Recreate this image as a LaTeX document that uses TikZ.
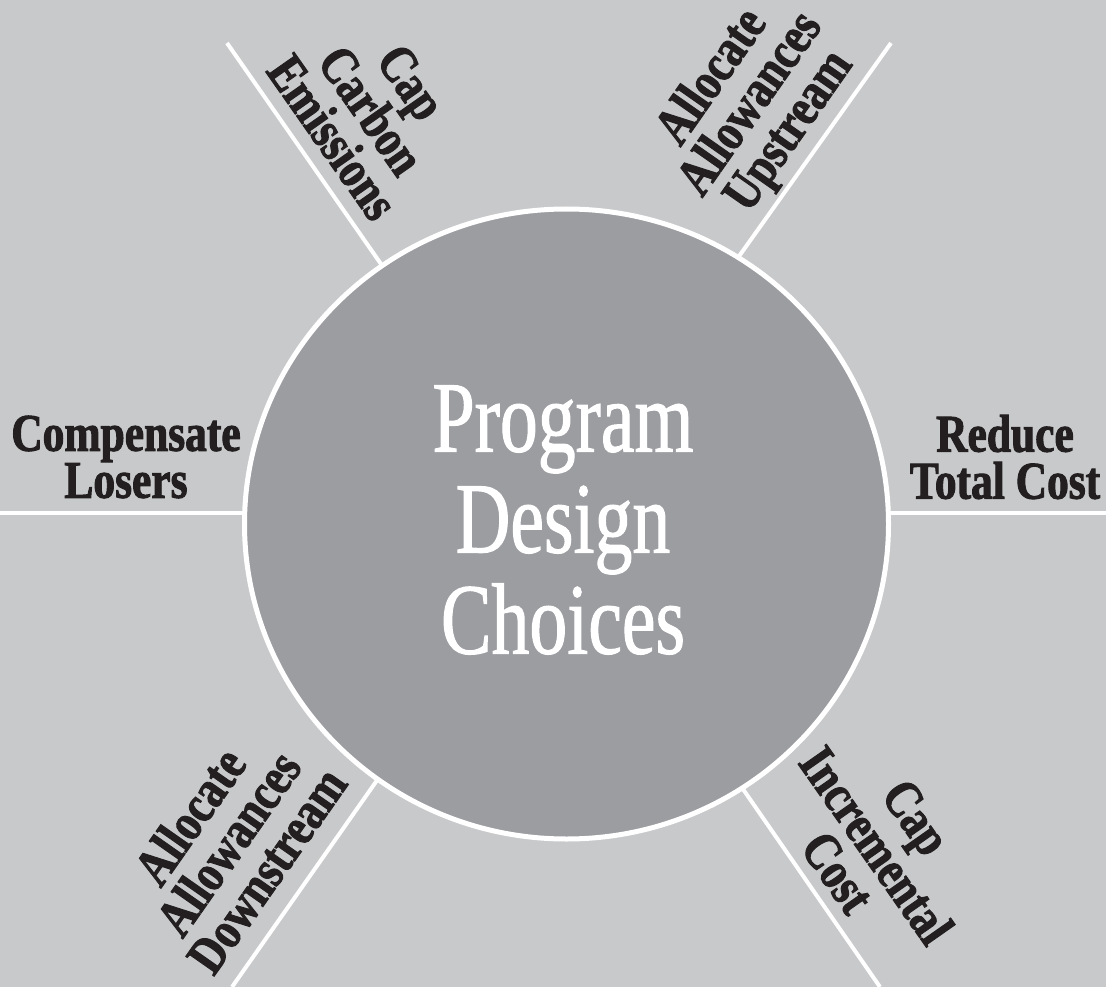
\documentclass[tikz,border=0pt]{standalone}
\usepackage{fontspec}
\usetikzlibrary{shapes.geometric}
\newfontfamily\labelfont{Liberation Serif}[FakeStretch=0.82,FakeBold=1.8]
\newfontfamily\centerfont{Liberation Serif}[FakeStretch=0.75,FakeBold=1.0]
\definecolor{bgray}{HTML}{C8C9CB}
\definecolor{cgray}{HTML}{9C9DA1}
\definecolor{ink}{HTML}{231F20}
\tikzset{
  spoke/.style={draw=white, line width=4pt},
  lbl/.style={text=ink, align=center, inner sep=0pt,
    font=\labelfont\bfseries\fontsize{53}{47}\selectfont},
  hub/.style={text=white, align=center, inner sep=0pt,
    font=\centerfont\fontsize{101}{101}\selectfont}
}
\begin{document}
\begin{tikzpicture}[x=1pt,y=-1pt]
\fill[bgray] (0,0) rectangle (1106,987);
\useasboundingbox (0,0) rectangle (1106,987);
% named coordinates
\coordinate (C) at (566.5,524);
\coordinate (Lout) at (0,513);
\coordinate (Lin) at (300,513);
\coordinate (Rout) at (1106,513);
\coordinate (Rin) at (830,513);
\coordinate (ULout) at (227,43);
\coordinate (ULin) at (420,320);
\coordinate (URout) at (891,43);
\coordinate (URin) at (700,311);
\coordinate (LLout) at (232,987);
\coordinate (LLin) at (420,719);
\coordinate (LRout) at (880,987);
\coordinate (LRin) at (700,727);
% spokes
\draw[spoke] (Lout) -- (Lin);
\draw[spoke] (Rout) -- (Rin);
\draw[spoke] (ULout) -- (ULin);
\draw[spoke] (URout) -- (URin);
\draw[spoke] (LLout) -- (LLin);
\draw[spoke] (LRout) -- (LRin);
% hub
\node[ellipse, minimum width=644pt, minimum height=630pt, fill=cgray, draw=white, line width=5pt, inner sep=0pt] (hubcircle) at (C) {};
\node[hub] (hubtext) at (563,520) {Program\\Design\\Choices};
% labels
\node[lbl] (left) at (126,457) {Compensate\\Losers};
\node[lbl] (right) at (1005,457) {Reduce\\Total Cost};
\node[lbl, rotate=-55] (ul) at (372,110) {Cap\\Carbon\\Emissions};
\node[lbl, rotate=55] (ur) at (752,105) {Allocate\\Allowances\\Upstream};
\node[lbl, rotate=55] (ll) at (228,843) {Allocate\\Allowances\\Downstream};
\node[lbl, rotate=-55] (lr) at (877,845) {Cap\\Incremental\\Cost};
\end{tikzpicture}
\end{document}
